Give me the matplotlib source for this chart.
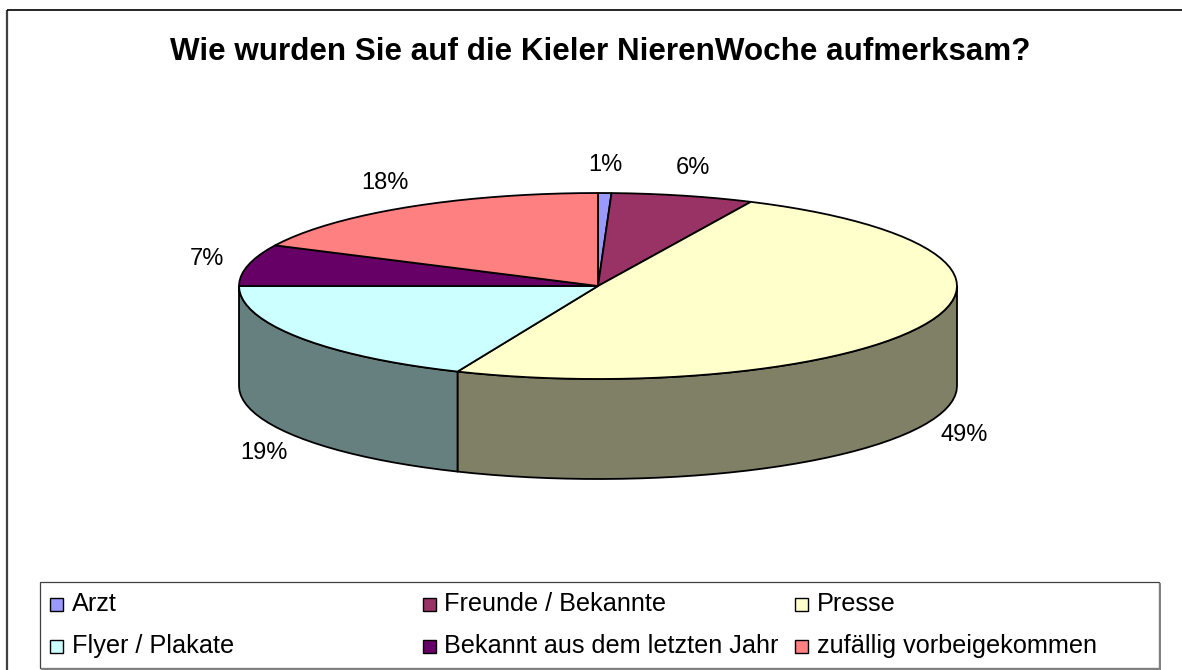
import numpy as np
import matplotlib
matplotlib.use("Agg")
import matplotlib.pyplot as plt
from matplotlib.patches import Polygon, Rectangle
from matplotlib.colors import to_rgb

plt.rcParams["font.family"] = ["Liberation Sans", "DejaVu Sans"]

TITLE = "Wie wurden Sie auf die Kieler NierenWoche aufmerksam?"
CATEGORIES = ["Arzt", "Freunde / Bekannte", "Presse",
              "Flyer / Plakate", "Bekannt aus dem letzten Jahr", "zufällig vorbeigekommen"]
SHARES = [0.6, 6.4, 49.4, 18.6, 7.2, 17.8]
COLORS = ["#9999FF", "#993366", "#FFFFCC", "#CCFFFF", "#660066", "#FF8080"]

# pie geometry in pixels
CX, CY, RX, RY, DEPTH = 598, 286, 359, 93, 100


def ell(deg, dz=0.0):
    t = np.radians(deg)
    return CX + RX * np.sin(t), CY - RY * np.cos(t) + dz


def arc(a, b, dz=0.0, n=120):
    t = np.linspace(a, b, max(2, int(n * (b - a) / 360) + 2))
    x, y = ell(t, dz)
    return np.column_stack([x, y])


def main():
    fig = plt.figure(figsize=(11.82, 6.70), dpi=100)
    ax = fig.add_axes([0, 0, 1, 1])
    ax.set_xlim(0, 1182)
    ax.set_ylim(670, 0)
    ax.axis("off")

    # outer chart frame
    ax.plot([7, 7], [10, 670], color="#404040", lw=1.6, solid_capstyle="butt")
    ax.plot([7, 1182], [10, 10], color="black", lw=1.2, solid_capstyle="butt")

    ax.text(600, 52, TITLE, ha="center", va="center", fontsize=22.6, fontweight="bold")

    cum = np.concatenate([[0], np.cumsum(SHARES)]) / sum(SHARES) * 360.0

    # side walls (front half only)
    for i, col in enumerate(COLORS):
        lo, hi = max(cum[i], 90), min(cum[i + 1], 270)
        if lo >= hi:
            continue
        top = arc(lo, hi)
        bot = arc(lo, hi, DEPTH)[::-1]
        dark = tuple(c * 0.5 for c in to_rgb(col))
        ax.add_patch(Polygon(np.vstack([top, bot]), closed=True, facecolor=dark,
                             edgecolor="black", lw=1.3, joinstyle="round", zorder=2))

    # top faces
    for i, col in enumerate(COLORS):
        pts = np.vstack([[CX, CY], arc(cum[i], cum[i + 1])])
        ax.add_patch(Polygon(pts, closed=True, facecolor=col, edgecolor="black",
                             lw=1.3, joinstyle="round", zorder=3))

    # percentage labels
    for i, v in enumerate(SHARES):
        mid = (cum[i] + cum[i + 1]) / 2
        x, y = ell(mid)
        if np.cos(np.radians(mid)) < 0:
            y += DEPTH
        t = np.radians(mid)
        ax.text(x + 42 * np.sin(t), y - 28 * np.cos(t), f"{v:.0f}%",
                ha="center", va="center", fontsize=17, zorder=4)

    # legend box
    ax.add_patch(Rectangle((40, 582), 1119, 86, facecolor="white",
                           edgecolor="#404040", lw=0.9, zorder=1))
    ax.plot([1160, 1160], [584, 670], color="#808080", lw=1.4)
    ax.plot([42, 1160], [669, 669], color="#808080", lw=1.4)
    for i, (name, col) in enumerate(zip(CATEGORIES, COLORS)):
        r, c = divmod(i, 3)
        x0 = 50 + 372.5 * c
        base = 611 + 42 * r
        ax.add_patch(Rectangle((x0, base - 13), 13, 13, facecolor=col,
                               edgecolor="black", lw=1.0, zorder=2))
        ax.text(x0 + 22, base, name, ha="left", va="baseline", fontsize=18.2, zorder=2)

    fig.savefig("out.png", dpi=100)
    plt.close(fig)


if __name__ == "__main__":
    main()
